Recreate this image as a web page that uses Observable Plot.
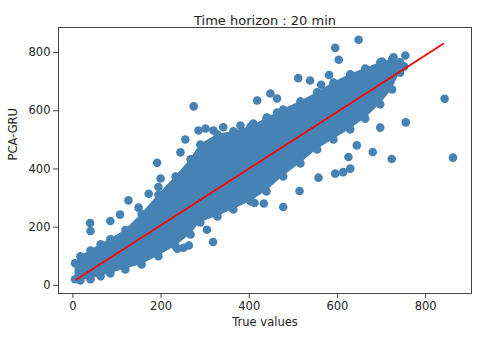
<!DOCTYPE html>
<html>
<head>
<meta charset="utf-8">
<script src="https://cdn.jsdelivr.net/npm/d3@7"></script>
<script src="https://cdn.jsdelivr.net/npm/@observablehq/plot@0.6"></script>
<style>
  html, body { margin: 0; padding: 0; background: #fff; }
  #chart svg { display: block; }
</style>
</head>
<body>
<div id="chart"></div>
<script>
// Dense core of the point cloud: envelope of dot centres (true value -> predicted lower/upper)
const envX  = [5, 17, 40, 63, 85, 119, 156, 194, 233, 267, 289, 328, 364, 403, 439, 477, 516, 554, 591, 629, 663, 697, 724, 742, 751];
const envLo = [21, 17, 21, 31, 41, 55, 72, 100, 134, 175, 216, 237, 261, 288, 323, 374, 419, 467, 501, 536, 573, 622, 673, 731, 752];
const envHi = [76, 100, 120, 141, 158, 190, 245, 311, 374, 433, 484, 518, 529, 546, 573, 604, 632, 663, 697, 725, 745, 766, 776, 766, 752];

// Individual points outside the dense core
const outX = [39, 40, 85, 107, 126, 149, 172, 194, 191, 199, 244, 255, 285, 301, 319, 341, 380, 409, 440, 463,
              274, 418, 448, 463, 511, 538, 563, 581, 595, 603, 648, 701, 727, 754,
              237, 251, 263, 304, 318, 412, 433, 477, 514, 557, 595, 613, 629, 625, 644, 680, 697, 723, 755, 843, 862];
const outY = [214, 187, 221, 243, 292, 267, 315, 338, 421, 367, 457, 501, 532, 539, 532, 543, 549, 556, 577, 594,
              615, 635, 659, 642, 712, 704, 689, 723, 816, 775, 844, 769, 784, 790,
              126, 129, 137, 191, 149, 283, 281, 269, 324, 370, 384, 389, 401, 441, 481, 458, 542, 434, 560, 641, 439];

// Fitted line
const lineX = [8, 840];
const lineY = [20, 830];

const xTicks = [0, 200, 400, 600, 800];
const yTicks = [0, 200, 400, 600, 800];

const title = "Time horizon : 20 min";
const xLabel = "True values";
const yLabel = "PCA-GRU";

const blue = "#4682b4";

const env = envX.map((x, i) => ({x, lo: envLo[i], hi: envHi[i]}));
const edge = env.flatMap(d => [{x: d.x, y: d.lo}, {x: d.x, y: d.hi}]);
const outs = outX.map((x, i) => ({x, y: outY[i]}));
const line = lineX.map((x, i) => ({x, y: lineY[i]}));

const chart = Plot.plot({
  width: 480,
  height: 339,
  marginTop: 27,
  marginRight: 9,
  marginBottom: 46,
  marginLeft: 58,
  style: {fontFamily: "DejaVu Sans", fontSize: "11.5px", color: "#222", background: "#fff"},
  x: {domain: [-32.6, 904], ticks: xTicks},
  y: {domain: [-28, 886], ticks: yTicks},
  marks: [
    Plot.area(env, {x1: "x", y1: "lo", y2: "hi", fill: blue}),
    Plot.dot(edge, {x: "x", y: "y", r: 4.3, fill: blue}),
    Plot.dot(outs, {x: "x", y: "y", r: 4.3, fill: blue}),
    Plot.line(line, {x: "x", y: "y", stroke: "red", strokeWidth: 1.7}),
    Plot.frame({stroke: "#444", strokeWidth: 1}),
    Plot.axisX({ticks: xTicks, tickSize: 5, tickPadding: 3, label: null, stroke: "#444", fontSize: 11.5}),
    Plot.axisY({ticks: yTicks, tickSize: 5, tickPadding: 3, label: null, stroke: "#444", fontSize: 11.5}),
    Plot.text([title], {frameAnchor: "top", dy: -12, fontSize: 13, fill: "#222"}),
    Plot.text([xLabel], {frameAnchor: "bottom", dy: 32, fontSize: 11.5, fill: "#222"}),
    Plot.text([yLabel], {frameAnchor: "left", dx: -45, rotate: -90, fontSize: 11.5, fill: "#222"})
  ]
});
document.getElementById("chart").appendChild(chart);
</script>
</body>
</html>
